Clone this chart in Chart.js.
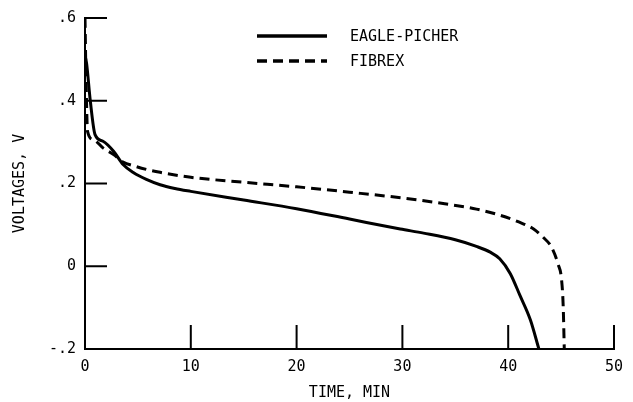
<!DOCTYPE html>
<html>
<head>
<meta charset="utf-8">
<script src="https://cdn.jsdelivr.net/npm/chart.js@4/dist/chart.umd.min.js"></script>
<style>
  html, body { margin: 0; padding: 0; background: #fff; }
  #wrap { width: 633px; height: 402px; }
</style>
</head>
<body>
<div id="wrap"><canvas id="c"></canvas></div>
<script>
// values (time in min, volts)
var eagleTime = [0, 0.15, 0.5, 0.95, 1.7, 2.7, 3.6, 4.6, 5.8, 7.1, 8.5, 10, 15, 20, 25, 29.8, 32, 35, 37, 38.3, 39.2, 40.2, 41.1, 42.1, 42.9];
var eagleVolt = [0.51, 0.49, 0.40, 0.318, 0.302, 0.278, 0.246, 0.226, 0.21, 0.197, 0.188, 0.181, 0.16, 0.139, 0.114, 0.09, 0.08, 0.064, 0.048, 0.034, 0.018, -0.018, -0.07, -0.13, -0.2];
var fibrexTime = [0, 0.1, 0.24, 0.8, 1.7, 2.7, 3.6, 4.7, 5.8, 7.1, 10, 15, 20, 25, 30, 34, 37, 39, 41, 42.4, 43.3, 44.1, 44.7, 45.05, 45.2, 45.3];
var fibrexVolt = [0.6, 0.45, 0.326, 0.306, 0.286, 0.27, 0.252, 0.242, 0.234, 0.227, 0.215, 0.203, 0.192, 0.179, 0.165, 0.151, 0.138, 0.125, 0.107, 0.09, 0.07, 0.046, 0.006, -0.034, -0.098, -0.2];
var xTicks = [10, 20, 30, 40, 50];
var yTicks = [0, 0.2, 0.4, 0.6];
var seriesNames = ['EAGLE-PICHER', 'FIBREX'];

function toPoints(xs, ys) {
  return xs.map(function (x, i) { return { x: x, y: ys[i] }; });
}
function fmtVolt(v) {
  var r = Math.round(v * 10) / 10;
  if (r === 0) return '0';
  return String(r).replace('0.', '.');
}

Chart.defaults.font.family = "'DejaVu Sans Mono', monospace";
Chart.defaults.font.size = 15;
Chart.defaults.color = '#000';

// inward tick marks drawn along both axes
var innerTicks = {
  id: 'innerTicks',
  afterDatasetsDraw: function (chart) {
    var ctx = chart.ctx, a = chart.chartArea;
    var xs = chart.scales.x, ys = chart.scales.y;
    ctx.save();
    ctx.strokeStyle = '#000';
    ctx.lineWidth = 2;
    ctx.beginPath();
    xTicks.forEach(function (t) {
      var px = xs.getPixelForValue(t);
      ctx.moveTo(px, a.bottom);
      ctx.lineTo(px, a.bottom - 24);
    });
    yTicks.forEach(function (t) {
      var py = ys.getPixelForValue(t);
      ctx.moveTo(a.left, py);
      ctx.lineTo(a.left + 22, py);
    });
    ctx.stroke();
    ctx.restore();
  }
};

// legend key in the upper middle
var lineKey = {
  id: 'lineKey',
  afterDraw: function (chart) {
    var ctx = chart.ctx;
    var rows = [{ y: 36, dash: [] }, { y: 61, dash: [10, 6] }];
    ctx.save();
    rows.forEach(function (r, i) {
      ctx.strokeStyle = '#000';
      ctx.lineWidth = 3.5;
      ctx.setLineDash(r.dash);
      ctx.beginPath();
      ctx.moveTo(257, r.y);
      ctx.lineTo(327, r.y);
      ctx.stroke();
      ctx.setLineDash([]);
      ctx.fillStyle = '#000';
      ctx.font = "15px 'DejaVu Sans Mono', monospace";
      ctx.textBaseline = 'middle';
      ctx.fillText(seriesNames[i], 350, r.y + 1);
    });
    ctx.restore();
  }
};

new Chart(document.getElementById('c'), {
  type: 'line',
  data: {
    datasets: [{
      label: seriesNames[0],
      data: toPoints(eagleTime, eagleVolt),
      borderColor: '#000',
      borderWidth: 3,
      pointRadius: 0,
      cubicInterpolationMode: 'monotone',
      fill: false
    }, {
      label: seriesNames[1],
      data: toPoints(fibrexTime, fibrexVolt),
      borderColor: '#000',
      borderWidth: 3,
      borderDash: [10, 6],
      pointRadius: 0,
      cubicInterpolationMode: 'monotone',
      fill: false
    }]
  },
  options: {
    responsive: true,
    maintainAspectRatio: false,
    animation: false,
    layout: { padding: { top: 16, right: 19, left: 0, bottom: 0 } },
    plugins: { legend: { display: false }, tooltip: { enabled: false } },
    scales: {
      x: {
        type: 'linear',
        min: 0, max: 50,
        ticks: { stepSize: 10, padding: 9, maxRotation: 0 },
        grid: { drawOnChartArea: false, drawTicks: false },
        border: { display: true, color: '#000', width: 2 },
        title: { display: true, text: 'TIME, MIN', padding: { top: 0, bottom: 0 } },
        afterFit: function (s) { s.height = 53; }
      },
      y: {
        min: -0.2, max: 0.6,
        ticks: { stepSize: 0.2, padding: 9, callback: function (v) { return fmtVolt(v); } },
        grid: { drawOnChartArea: false, drawTicks: false },
        border: { display: true, color: '#000', width: 2 },
        title: { display: true, text: 'VOLTAGES, V', padding: { top: 11, bottom: 0 } },
        afterFit: function (s) { s.width = 85; }
      }
    }
  },
  plugins: [innerTicks, lineKey]
});
</script>
</body>
</html>
